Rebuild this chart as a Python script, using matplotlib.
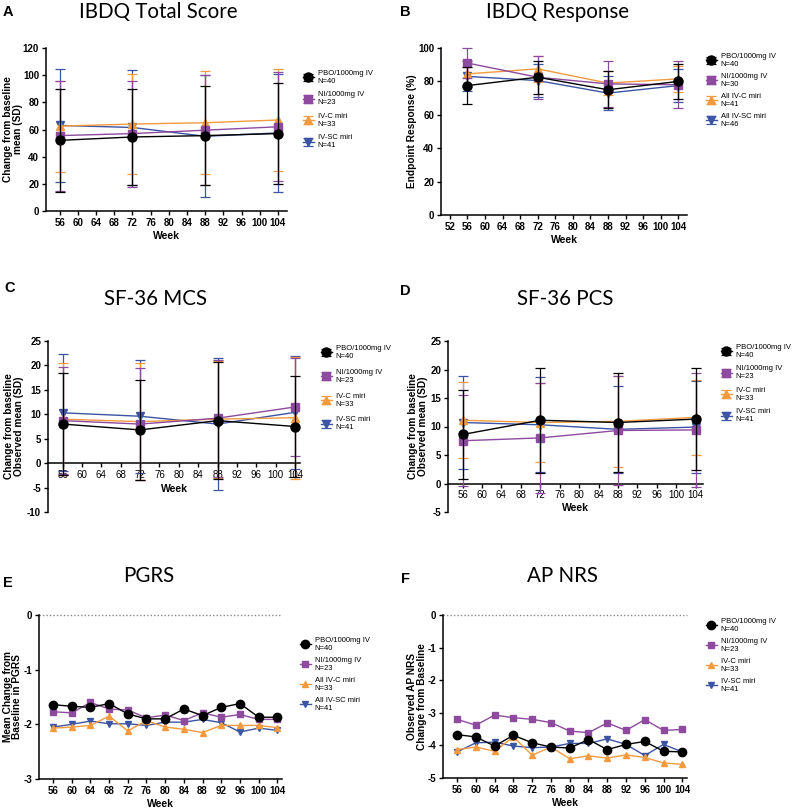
import numpy as np
import matplotlib
matplotlib.use("Agg")
from matplotlib import pyplot as plt

# ---- data ----
weeks4 = [56, 72, 88, 104]
weeks13 = [56, 60, 64, 68, 72, 76, 80, 84, 88, 92, 96, 100, 104]

labels_a = ["PBO/1000mg IV\nN=40", "NI/1000mg IV\nN=23", "IV-C miri\nN=33", "IV-SC miri\nN=41"]
labels_b = ["PBO/1000mg IV\nN=40", "NI/1000mg IV\nN=30", "All IV-C miri\nN=41", "All IV-SC miri\nN=46"]
labels_e = ["PBO/1000mg IV\nN=40", "NI/1000mg IV\nN=23", "All IV-C miri\nN=33", "All IV-SC miri\nN=41"]

# A: IBDQ total score (mean, SD)
ibdq_pbo = [52, 54.5, 55.5, 57]
ibdq_pbo_sd = [38, 35, 36.5, 37]
ibdq_ni = [55.5, 57, 59.5, 62]
ibdq_ni_sd = [40.5, 39, 40.5, 40]
ibdq_ivc = [62.5, 64, 65, 67]
ibdq_ivc_sd = [33.5, 36.5, 38, 37.5]
ibdq_ivsc = [63, 61.5, 55, 57.5]
ibdq_ivsc_sd = [41.5, 42, 45, 43.5]

# B: IBDQ response (%)
resp_pbo = [77.5, 82.5, 75, 80]
resp_pbo_err = [11, 10, 11, 10.5]
resp_ni = [91, 82.5, 78.5, 78]
resp_ni_err = [9, 13, 14, 14]
resp_ivc = [84.5, 87.5, 79, 81.5]
resp_ivc_err = [8, 8, 7, 8]
resp_ivsc = [83, 80.5, 73, 77.5]
resp_ivsc_err = [9, 10, 10, 10]

# C: SF-36 MCS
mcs_pbo = [8, 6.8, 8.7, 7.5]
mcs_pbo_sd = [10.5, 10.2, 12, 10.3]
mcs_ni = [8.7, 8, 9.2, 11.5]
mcs_ni_sd = [11, 11.5, 12, 10]
mcs_ivc = [9, 8.5, 9, 9.3]
mcs_ivc_sd = [11.5, 12, 12, 12.5]
mcs_ivsc = [10.3, 9.6, 8, 10.4]
mcs_ivsc_sd = [12, 11.6, 13.5, 11.6]

# D: SF-36 PCS
pcs_pbo = [8.6, 11.1, 10.7, 11.3]
pcs_pbo_sd = [7.8, 9.2, 8.7, 9]
pcs_ni = [7.5, 8, 9.3, 9.4]
pcs_ni_sd = [8, 9.6, 9.5, 10]
pcs_ivc = [11.1, 10.7, 10.9, 11.6]
pcs_ivc_sd = [6.7, 7, 8, 6.6]
pcs_ivsc = [10.7, 10.3, 9.5, 9.9]
pcs_ivsc_sd = [8.1, 8.3, 7.6, 8]

# E: PGRS
pgrs_pbo = [-1.64, -1.67, -1.69, -1.62, -1.81, -1.90, -1.90, -1.72, -1.84, -1.69, -1.62, -1.87, -1.87]
pgrs_ni = [-1.77, -1.79, -1.60, -1.72, -1.74, -1.88, -1.83, -1.93, -1.79, -1.87, -1.82, -1.91, -1.91]
pgrs_ivc = [-2.07, -2.05, -2.02, -1.85, -2.12, -1.93, -2.05, -2.09, -2.15, -2.02, -2.02, -2.02, -2.06]
pgrs_ivsc = [-2.05, -2.00, -1.94, -1.99, -1.99, -2.02, -1.96, -1.96, -1.91, -1.97, -2.14, -2.07, -2.11]

# F: AP NRS
apnrs_pbo = [-3.67, -3.74, -4.02, -3.69, -3.92, -4.05, -4.08, -3.82, -4.13, -3.97, -3.88, -4.18, -4.20]
apnrs_ni = [-3.20, -3.38, -3.07, -3.15, -3.20, -3.30, -3.56, -3.61, -3.31, -3.54, -3.21, -3.54, -3.51]
apnrs_ivc = [-4.13, -4.05, -4.18, -3.74, -4.30, -4.05, -4.41, -4.32, -4.39, -4.29, -4.37, -4.54, -4.58]
apnrs_ivsc = [-4.20, -3.92, -3.90, -4.02, -4.07, -4.05, -3.94, -3.94, -3.80, -3.97, -4.31, -3.97, -4.20]

colors = ["black", "#8E4A9E", "#F39A3E", "#3B54A4"]
markers = ["o", "s", "^", "v"]
msizes = [6.5, 5.5, 5.5, 5.5]

plt.rcParams['font.family'] = ['Liberation Sans', 'DejaVu Sans']
plt.rcParams['axes.unicode_minus'] = False

W, H = 800, 808
fig = plt.figure(figsize=(W / 100, H / 100), dpi=100)


def px_axes(l, t, r, b):
    ax = fig.add_axes([l / W, 1 - b / H, (r - l) / W, (b - t) / H])
    ax._px = (l, t, r, b)
    return ax


def style(ax, xticks, yticks, xlim, ylim, ylabel, ylab_x, week_top=None):
    l, t, r, b = ax._px
    ax.set_xlim(*xlim)
    ax.set_ylim(*ylim)
    ax.set_xticks(xticks)
    ax.set_yticks(yticks)
    ax.spines['top'].set_visible(False)
    ax.spines['right'].set_visible(False)
    for s in ['left', 'bottom']:
        ax.spines[s].set_linewidth(1.1)
    ax.tick_params(direction='out', length=3, width=1, labelsize=7, pad=2)
    for lab in ax.get_xticklabels() + ax.get_yticklabels():
        lab.set_fontweight('bold')
        lab.set_family('Liberation Sans')
    ax.set_xlabel("Week", fontsize=7.5, fontweight='bold', family='Liberation Sans', labelpad=2)
    ax.set_ylabel(ylabel, fontsize=7.3, fontweight='bold', family='Liberation Sans',
                  linespacing=0.95, va='center')
    ax.yaxis.set_label_coords((ylab_x - l) / (r - l), 0.5)
    if week_top is not None:
        ax.xaxis.set_label_coords(0.5, (b - week_top) / (b - t))


def draw_err(ax, x, series, errs):
    handles = []
    for i in [3, 2, 1, 0]:
        h = ax.errorbar(x, series[i], yerr=errs[i], color=colors[i], marker=markers[i],
                        markersize=msizes[i], lw=1.0, elinewidth=0.9, capsize=3.5,
                        capthick=0.9, zorder=3 + (3 - i), clip_on=False)
        handles.append(h)
    return handles[::-1]


def draw_lines(ax, x, series):
    handles = []
    for i in [3, 2, 1, 0]:
        h, = ax.plot(x, series[i], color=colors[i], marker=markers[i],
                     markersize=msizes[i] - 0.5, lw=1.0, zorder=3 + (3 - i))
        handles.append(h)
    return handles[::-1]


def legend(ax, handles, labels, x, y, spacing):
    ax.legend(handles, labels, loc='upper left', bbox_to_anchor=(x / W, 1 - y / H),
              bbox_transform=fig.transFigure, frameon=False,
              prop={'family': 'Liberation Sans', 'size': 5.5},
              handlelength=1.4, handletextpad=0.5, borderpad=0, borderaxespad=0,
              labelspacing=spacing)


def heading(letter, lx, ly, title, tx, ty):
    fig.text(lx / W, 1 - ly / H, letter, fontsize=10.5, fontweight='bold',
             family='Liberation Sans', va='baseline')
    fig.text(tx / W, 1 - ty / H, title, fontsize=14.8, family=['Lato', 'DejaVu Sans'],
             ha='center', va='baseline')


# ---- A ----
ax = px_axes(46, 48, 287, 211)
hs = draw_err(ax, weeks4, [ibdq_pbo, ibdq_ni, ibdq_ivc, ibdq_ivsc],
              [ibdq_pbo_sd, ibdq_ni_sd, ibdq_ivc_sd, ibdq_ivsc_sd])
style(ax, list(range(56, 105, 4)), list(range(0, 121, 20)), (53, 106), (0, 120),
      "Change from baseline\nmean (SD)", 13)
legend(ax, hs, labels_a, 303, 70, 0.85)
heading("A", 3, 16, "IBDQ Total Score", 158, 18)

# ---- B ----
ax = px_axes(441, 48, 687, 215)
hs = draw_err(ax, weeks4, [resp_pbo, resp_ni, resp_ivc, resp_ivsc],
              [resp_pbo_err, resp_ni_err, resp_ivc_err, resp_ivsc_err])
style(ax, list(range(52, 105, 4)), list(range(0, 101, 20)), (50, 106), (0, 100),
      "Endpoint Response (%)", 412)
legend(ax, hs, labels_b, 706, 53, 0.65)
heading("B", 400, 16, "IBDQ Response", 558, 18)

# ---- C ----
ax = px_axes(48, 341, 300, 512)
hs = draw_err(ax, weeks4, [mcs_pbo, mcs_ni, mcs_ivc, mcs_ivsc],
              [mcs_pbo_sd, mcs_ni_sd, mcs_ivc_sd, mcs_ivsc_sd])
style(ax, list(range(56, 105, 4)), list(range(-10, 26, 5)), (53, 105), (-10, 25),
      "Change from baseline\nObserved mean (SD)", 14, week_top=484)
ax.spines['bottom'].set_position(('data', 0))
legend(ax, hs, labels_a, 321, 345, 1.15)
heading("C", 4, 292, "SF-36 MCS", 155, 305)

# ---- D ----
ax = px_axes(448, 341, 703, 512)
hs = draw_err(ax, weeks4, [pcs_pbo, pcs_ni, pcs_ivc, pcs_ivsc],
              [pcs_pbo_sd, pcs_ni_sd, pcs_ivc_sd, pcs_ivsc_sd])
style(ax, list(range(56, 105, 4)), list(range(-5, 26, 5)), (53, 105.5), (-5, 25),
      "Change from baseline\nObserved mean (SD)", 418, week_top=503)
ax.spines['bottom'].set_position(('data', 0))
legend(ax, hs, labels_a, 721, 344, 0.85)
heading("D", 400, 295, "SF-36 PCS", 565, 305)

# ---- E ----
ax = px_axes(39, 615, 282, 779)
hs = draw_lines(ax, weeks13, [pgrs_pbo, pgrs_ni, pgrs_ivc, pgrs_ivsc])
style(ax, weeks13, [-3, -2, -1, 0], (53, 105), (-3, 0),
      "Mean Change from\nBaseline in PGRS", 12.5)
ax.axhline(0, color='#888888', lw=1, ls=(0, (1, 1.5)), zorder=1, clip_on=False)
legend(ax, hs, labels_e, 300, 637, 0.65)
heading("E", 3, 587, "PGRS", 149, 582)

# ---- F ----
ax = px_axes(443, 615, 687, 778)
hs = draw_lines(ax, weeks13, [apnrs_pbo, apnrs_ni, apnrs_ivc, apnrs_ivsc])
style(ax, weeks13, [-5, -4, -3, -2, -1, 0], (53, 105), (-5, 0),
      "Observed AP NRS\nChange from Baseline", 417)
ax.axhline(0, color='#888888', lw=1, ls=(0, (1, 1.5)), zorder=1, clip_on=False)
legend(ax, hs, labels_a, 706, 618, 0.65)
heading("F", 401, 583, "AP NRS", 562, 582)

fig.savefig("out.png", dpi=100, facecolor='white')
